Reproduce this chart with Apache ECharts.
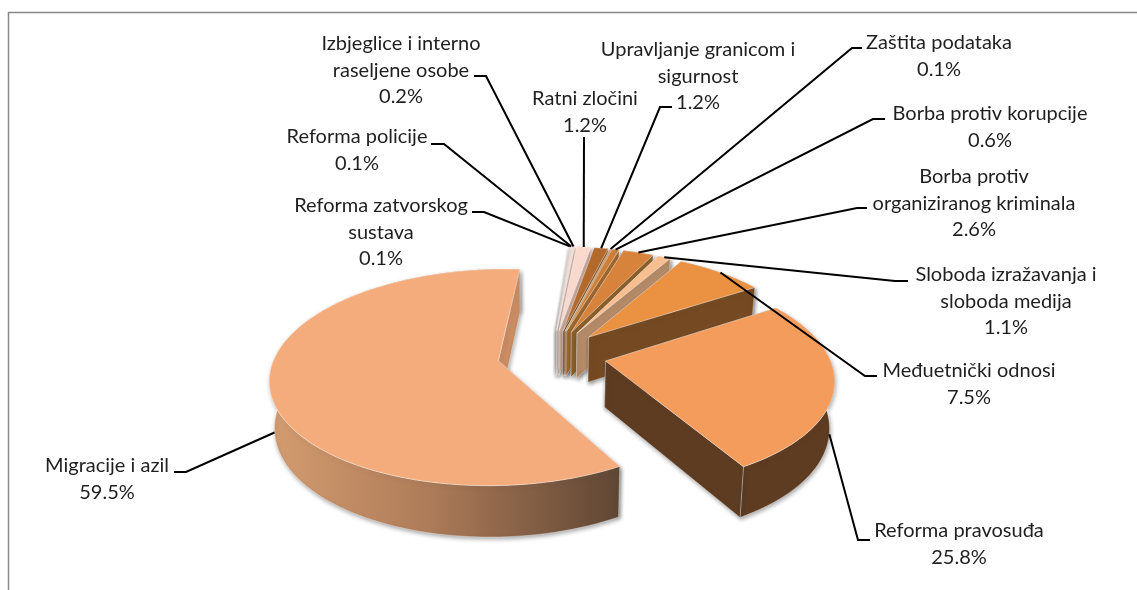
<!DOCTYPE html>
<html>
<head>
<meta charset="utf-8">
<style>
  html, body { margin: 0; padding: 0; background: #fff; }
  #pie3d { width: 1137px; height: 590px; }
</style>
<script src="https://cdn.jsdelivr.net/npm/echarts@6/dist/echarts.min.js"></script>
</head>
<body>
<div id="pie3d"></div>
<script>
// slices clockwise, starting at Migracije (drawn first, sits in front on its own)
const sliceNames = [
  'Migracije i azil',
  'Reforma zatvorskog\nsustava',
  'Reforma policije',
  'Izbjeglice i interno\nraseljene osobe',
  'Ratni zločini',
  'Upravljanje granicom i\nsigurnost',
  'Zaštita podataka',
  'Borba protiv korupcije',
  'Borba protiv\norganiziranog kriminala',
  'Sloboda izražavanja i\nsloboda medija',
  'Međuetnički odnosi',
  'Reforma pravosuđa'
];
const sliceValues = [59.5, 0.1, 0.1, 0.2, 1.2, 1.2, 0.1, 0.6, 2.6, 1.1, 7.5, 25.8];

const topColors = ['#F5AC7D', '#FBE3D8', '#FAE0D3', '#F9DCCD', '#F9D9CD', '#B2692B', '#C9803F', '#CF7F35', '#D8833B', '#F7BE8F', '#EA9142', '#F49C5B'];
const wallColors = [null, '#D9C2B8', '#D6BDB2', '#D2B8AC', '#C9AA9E', '#8A5522', '#9A6530', '#A0662C', '#8C5F2A', '#B48A68', '#754A22', '#5E3C22'];

// label layout: centre of first text line, then [line start x, bend x, y] of the leader
const labelAnchors = [[107, 466], [381, 206], [357, 137], [401, 44], [585, 99], [698, 50], [939, 43], [990, 114], [974, 177], [1006, 275], [969, 371], [959, 531]];
const leaderStarts = [[174, 186, 472], [472, 484, 212], [431, 444, 144], [474, 486, 76], [584, 584, 137], [672, 660, 107], [862, 852, 48], [885, 873, 119], [867, 857, 208], [908, 895, 281], [877, 865, 376], [870, 858, 540]];

// fake 3d projection of the pie plane
const cx = 552, cy = 355;
const scaleX = 223, scaleY = 104, persp = 0.152;
const depth = 46, converge = 0.018;
const explode = 0.245;
const startAngle = 150;

const total = sliceValues.reduce(function (a, b) { return a + b; }, 0);
const sliceAngles = [];
let acc = startAngle;
sliceValues.forEach(function (v) {
  const sweep = v / total * 360;
  sliceAngles.push([acc, acc + sweep]);
  acc += sweep;
});

function rad(d) { return d * Math.PI / 180; }

function project(gx, gy, z) {
  const f = 1 + persp * gy;
  const f2 = 1 + 0.1 * gy;
  return [
    cx + scaleX * gx / f * (1 - z * converge),
    cy - scaleY * gy / f + z * depth / f2
  ];
}

function apexOf(i) {
  const mid = rad((sliceAngles[i][0] + sliceAngles[i][1]) / 2);
  return [explode * Math.sin(mid), explode * Math.cos(mid)];
}

function rimPoint(i, angle) {
  const a = apexOf(i);
  return [a[0] + Math.sin(rad(angle)), a[1] + Math.cos(rad(angle))];
}

function arcPoints(i, z) {
  const from = sliceAngles[i][0], to = sliceAngles[i][1];
  const steps = Math.max(2, Math.ceil((to - from) / 2));
  const pts = [];
  for (let k = 0; k <= steps; k++) {
    const p = rimPoint(i, from + (to - from) * k / steps);
    pts.push(project(p[0], p[1], z));
  }
  return pts;
}

function poly(points, fill, extra) {
  return {
    type: 'polygon',
    shape: { points: points },
    style: Object.assign({ fill: fill, stroke: 'rgba(255,255,255,0.55)', lineWidth: 0.6 }, extra || {})
  };
}

function renderSlice(params, api) {
  const i = api.value(0);
  const a = apexOf(i);
  const apexTop = project(a[0], a[1], 0);
  const apexBot = project(a[0], a[1], 1);
  const topArc = arcPoints(i, 0);
  const botArc = arcPoints(i, 1);
  const first = 0, last = topArc.length - 1;
  const shadow = { shadowBlur: 4, shadowColor: 'rgba(60,60,60,0.45)', shadowOffsetX: 1, shadowOffsetY: 2 };
  let wall = wallColors[i];
  let endWall = wall;
  if (wall === null) {
    wall = new echarts.graphic.LinearGradient(0, 0, 1, 0, [
      { offset: 0, color: '#D49C70' },
      { offset: 0.45, color: '#AE7C59' },
      { offset: 1, color: '#5F4634' }
    ]);
    endWall = '#C98C63';
  }
  return {
    type: 'group',
    children: [
      poly([apexTop, topArc[first], botArc[first], apexBot], endWall, shadow),
      poly(topArc.concat(botArc.slice().reverse()), wall, shadow),
      poly([apexTop, topArc[last], botArc[last], apexBot], endWall, shadow),
      poly([apexTop].concat(topArc), topColors[i])
    ]
  };
}

function renderLabel(params, api) {
  const i = api.value(0);
  const mid = (sliceAngles[i][0] + sliceAngles[i][1]) / 2;
  const p = rimPoint(i, mid);
  const end = project(p[0], p[1], p[1] < 0 ? 1 : 0);
  const s = leaderStarts[i];
  const lines = sliceNames[i].split('\n').concat([sliceValues[i].toFixed(1) + '%']);
  const children = [{
    type: 'polyline',
    shape: { points: [[s[0], s[2]], [s[1], s[2]], end] },
    style: { fill: null, stroke: '#000', lineWidth: 2 }
  }];
  lines.forEach(function (t, n) {
    children.push({
      type: 'text',
      style: {
        text: t,
        x: labelAnchors[i][0],
        y: labelAnchors[i][1] + n * 26.4,
        align: 'center',
        verticalAlign: 'middle',
        fill: '#1f1f1f',
        font: '20px Lato'
      }
    });
  });
  return { type: 'group', children: children };
}

const charts = echarts.init(document.getElementById('pie3d'));
const sliceData = sliceValues.map(function (v, i) { return [i, v]; });
charts.setOption({
  backgroundColor: '#fff',
  animation: false,
  graphic: [{
    type: 'polyline',
    shape: { points: [[8.5, 590], [8.5, 12.5], [1137, 12.5]] },
    style: { fill: null, stroke: '#888', lineWidth: 1.5 }
  }],
  series: [
    { type: 'custom', coordinateSystem: 'none', renderItem: renderSlice, data: sliceData, z: 2, silent: true },
    { type: 'custom', coordinateSystem: 'none', renderItem: renderLabel, data: sliceData, z: 3, silent: true }
  ]
});
</script>
</body>
</html>
